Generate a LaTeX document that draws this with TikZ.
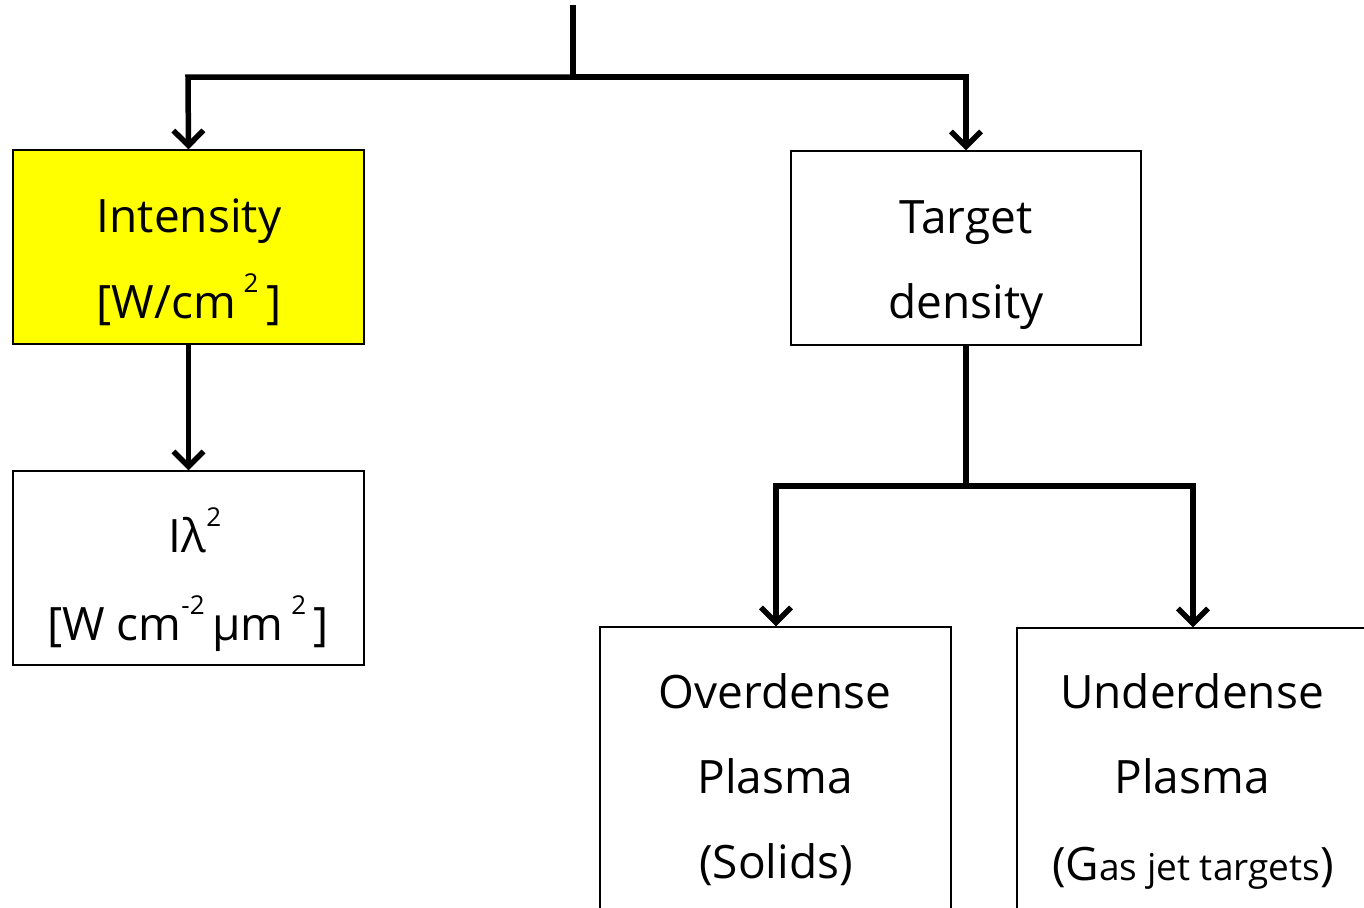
\documentclass[tikz,border=0pt]{standalone}
\usepackage{fontspec}
\setmainfont{Open Sans}
\usetikzlibrary{arrows.meta}
\definecolor{boxyellow}{RGB}{255,255,0}
\tikzset{
  box/.style={draw=black, line width=1.3pt, rectangle, inner sep=0pt},
  conn/.style={line width=5.5pt, -{Straight Barb[length=15pt,width=30pt,line width=5.5pt]}},
  plain/.style={line width=5.5pt},
  lbl/.style={anchor=base, inner sep=0pt, font=\fontsize{46}{50}\selectfont},
}
\newcommand{\supnum}[1]{\raisebox{0.55em}{\fontsize{26}{28}\selectfont #1}}
\begin{document}
\begin{tikzpicture}[x=1pt,y=1pt]
\useasboundingbox (0,0) rectangle (1364,-907);
\clip (0,0) rectangle (1364,-907);
% boxes
\node[box, fill=boxyellow, minimum width=351pt, minimum height=194pt] (int) at (188.5,-247) {};
\node[box, minimum width=351pt, minimum height=194pt] (il2) at (188.5,-568) {};
\node[box, minimum width=350pt, minimum height=194pt] (tgt) at (966,-248) {};
\node[box, minimum width=351pt, minimum height=300pt] (over) at (775.5,-777) {};
\node[box, minimum width=360pt, minimum height=300pt] (under) at (1197,-778) {};
% coordinates
\coordinate (top) at (573,-5);
\coordinate (topj) at (573,-77);
\coordinate (jl) at (188,-77);
\coordinate (jr) at (966,-77);
\coordinate (mj) at (966,-486);
\coordinate (ml) at (776,-486);
\coordinate (mr) at (1193,-486);
% connectors
\draw[plain] (top) -- (topj);
\draw[conn] (topj) -- (jl) -- (int.north);
\draw[conn] (topj) -- (jr) -- (tgt.north);
\draw[conn] (int.south) -- (il2.north);
\draw[plain] (tgt.south) -- (mj);
\draw[conn] (mj) -- (ml) -- (ml |- over.north);
\draw[conn] (mj) -- (mr) -- (mr |- under.north);
% labels
\node[lbl] (intA) at (189,-232) {Intensity};
\node[lbl] (intB) at (189,-318) {[W/cm\,\supnum{2}\,]};
\node[lbl] (ilA) at (195,-552) {Iλ\supnum{2}};
\node[lbl] (ilB) at (188,-640) {[W cm\supnum{-2}\,μm\,\supnum{2}\,]};
\node[lbl] (tgA) at (966,-233) {Target};
\node[lbl] (tgB) at (966,-318) {density};
\node[lbl] (ovA) at (775,-708) {Overdense};
\node[lbl] (ovB) at (775,-793) {Plasma};
\node[lbl] (ovC) at (776,-878) {(Solids)};
\node[lbl] (unA) at (1192,-708) {Underdense};
\node[lbl] (unB) at (1192,-793) {Plasma};
\node[lbl] (unC) at (1193,-880) {(G{\fontsize{37}{40}\selectfont as jet targets})};
\end{tikzpicture}
\end{document}
